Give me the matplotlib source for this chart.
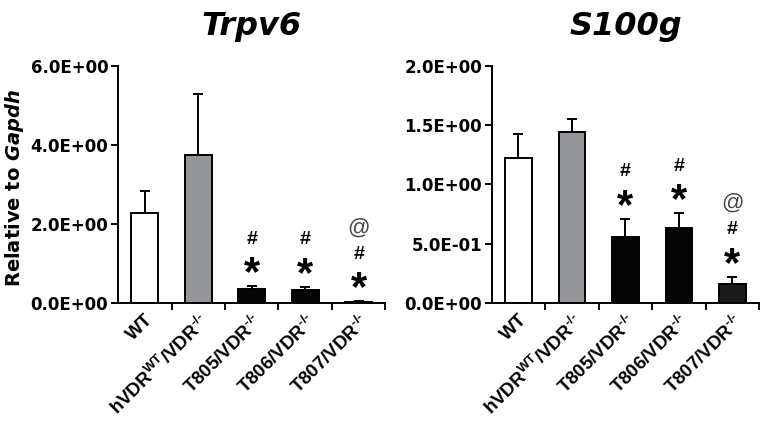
import matplotlib
matplotlib.use('Agg')
import matplotlib.pyplot as plt

plt.rcParams['font.family'] = ['DejaVu Sans']
plt.rcParams['font.weight'] = 'bold'
plt.rcParams['mathtext.fontset'] = 'custom'
plt.rcParams['mathtext.rm'] = 'Liberation Sans:bold'
plt.rcParams['mathtext.bf'] = 'Liberation Sans:bold'
plt.rcParams['mathtext.it'] = 'DejaVu Sans:italic:bold'

# ---------------------------------------------------------------------------
# Data
# ---------------------------------------------------------------------------
groups = [
    'WT',
    r'hVDR$^{\mathbf{WT}}$/VDR$^{\mathbf{‐/‐}}$',
    r'T805/VDR$^{\mathbf{‐/‐}}$',
    r'T806/VDR$^{\mathbf{‐/‐}}$',
    r'T807/VDR$^{\mathbf{‐/‐}}$',
]
bar_colors = ['#ffffff', '#939598', '#050505', '#050505', '#1a1a1a']

trpv6_mean = [2.27, 3.75, 0.35, 0.33, 0.03]
trpv6_err = [0.56, 1.54, 0.08, 0.08, 0.01]
trpv6_ticks = [0, 2, 4, 6]
trpv6_ticklabels = ['0.0E+00', '2.0E+00', '4.0E+00', '6.0E+00']

s100g_mean = [1.22, 1.445, 0.56, 0.63, 0.158]
s100g_err = [0.205, 0.108, 0.15, 0.127, 0.064]
s100g_ticks = [0, 0.5, 1.0, 1.5, 2.0]
s100g_ticklabels = ['0.0E+00', '5.0E-01', '1.0E+00', '1.5E+00', '2.0E+00']

# significance marks per group (bottom to top)
marks = [[], [], ['*', '#'], ['*', '#'], ['*', '#', '@']]


def draw_panel(ax, title, means, errs, ticks, ticklabels, ymax):
    x = list(range(len(groups)))
    ax.bar(x, means, width=0.5, color=bar_colors, edgecolor='black',
           linewidth=1.4, zorder=2)
    ax.errorbar(x, means, yerr=[[0] * len(errs), errs], fmt='none',
                ecolor='black', elinewidth=1.4, capsize=3.5, capthick=1.4,
                zorder=1)

    for xi, (m, e, ms) in enumerate(zip(means, errs, marks)):
        offsets = [22, 47, 73]
        for sym, off in zip(ms, offsets):
            if sym == '*':
                ax.annotate('*', (xi, m + e), xytext=(0, off - 10),
                            textcoords='offset pixels', ha='center',
                            va='center', fontsize=30, fontweight='bold',
                            family='Liberation Sans', color='black')
            elif sym == '#':
                ax.annotate('#', (xi, m + e), xytext=(0, off),
                            textcoords='offset pixels', ha='center',
                            va='center', fontsize=14, fontweight='bold',
                            family='Liberation Sans', color='black')
            else:
                ax.annotate('@', (xi, m + e), xytext=(0, off),
                            textcoords='offset pixels', ha='center',
                            va='center', fontsize=16, fontweight='normal',
                            family='Liberation Sans', color='#444444')

    ax.set_xlim(-0.5, 4.5)
    ax.set_ylim(0, ymax)
    ax.set_yticks(ticks)
    ax.set_yticklabels(ticklabels, fontsize=12, fontweight='bold')

    ax.set_xticks([0.5, 1.5, 2.5, 3.5, 4.5])
    ax.set_xticklabels([])
    ax.set_xticks(x, minor=True)
    ax.set_xticklabels(groups, minor=True, rotation=45, ha='right',
                       rotation_mode='anchor', fontsize=13.5,
                       fontweight='bold', family='Liberation Sans')
    ax.tick_params(axis='x', which='minor', length=0, pad=6)
    ax.tick_params(axis='x', which='major', length=5, width=1.4,
                   direction='out')
    ax.tick_params(axis='y', length=5, width=1.4, direction='out', pad=2)

    for side in ['top', 'right']:
        ax.spines[side].set_visible(False)
    for side in ['left', 'bottom']:
        ax.spines[side].set_linewidth(1.4)

    ax.set_title(title, fontsize=23, fontweight='bold', style='italic',
                 pad=22)


fig = plt.figure(figsize=(7.64, 4.24), dpi=100)
ax1 = fig.add_axes([0.1545, 0.2854, 0.35, 0.559])
ax2 = fig.add_axes([0.6436, 0.2854, 0.35, 0.559])

draw_panel(ax1, 'Trpv6', trpv6_mean, trpv6_err, trpv6_ticks,
           trpv6_ticklabels, 6)
draw_panel(ax2, 'S100g', s100g_mean, s100g_err, s100g_ticks,
           s100g_ticklabels, 2)

ax1.set_ylabel(r'Relative to $\mathit{Gapdh}$', fontsize=14,
               fontweight='bold')
ax1.yaxis.set_label_coords(-0.345, 0.485)

fig.savefig('out.png', dpi=100)
